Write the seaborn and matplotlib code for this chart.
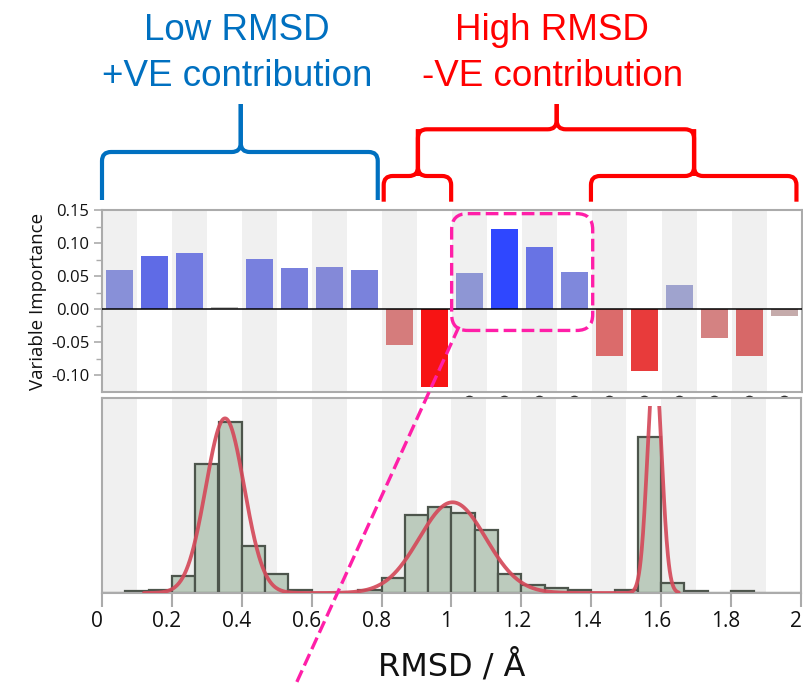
import numpy as np
import pandas as pd
import matplotlib
matplotlib.use("Agg")
import matplotlib.pyplot as plt
import matplotlib.transforms as mtransforms
from matplotlib.path import Path
from matplotlib.patches import PathPatch, FancyBboxPatch
from matplotlib.lines import Line2D
import seaborn as sns

# ---------------- data ----------------
# RMSD bins (0.1 Å wide) used as variables in the model
rmsd_bins = ["0.0-0.1", "0.1-0.2", "0.2-0.3", "0.3-0.4", "0.4-0.5",
             "0.5-0.6", "0.6-0.7", "0.7-0.8", "0.8-0.9", "0.9-1.0",
             "1.0-1.1", "1.1-1.2", "1.2-1.3", "1.3-1.4", "1.4-1.5",
             "1.5-1.6", "1.6-1.7", "1.7-1.8", "1.8-1.9", "1.9-2.0"]
importance = [0.059, 0.080, 0.085, 0.004, 0.076, 0.062, 0.064, 0.059,
              -0.054, -0.118, 0.055, 0.122, 0.094, 0.056, -0.071, -0.093,
              0.036, -0.043, -0.071, -0.010]
bar_colors = ["#8890d8", "#5f6be6", "#737ce1", "#c4c4c4", "#7880de",
              "#7980dd", "#8489d8", "#7a82dc", "#d57c7c", "#f71414",
              "#8e96d4", "#2f47ff", "#6873e4", "#7f88dc", "#db6b6b",
              "#e83b3b", "#9fa3ce", "#d48282", "#d76868", "#c5abab"]

# RMSD histogram (bin width 1/15 Å)
hist_edges = [k / 15 for k in range(31)]
hist_counts = [0, 1, 2, 10, 76, 101, 28, 11, 2, 0,
               0, 2, 9, 46, 51, 47, 37, 11, 5, 3,
               2, 0, 2, 92, 6, 1, 0, 1, 0, 0]

# Gaussian mixture fitted to the RMSD distribution
fit_centres = [0.352, 1.003, 1.581]
fit_widths = [0.055, 0.095, 0.020]
fit_peaks = [103.0, 53.5, 138.0]
fit_range = (0.12, 1.65)

x_ticks = [0, 0.2, 0.4, 0.6, 0.8, 1.0, 1.2, 1.4, 1.6, 1.8, 2.0]
x_ticklabels = ["0", "0.2", "0.4", "0.6", "0.8", "1", "1.2", "1.4", "1.6", "1.8", "2"]
y_ticks = [-0.10, -0.05, 0.00, 0.05, 0.10, 0.15]

BLUE = "#0070c0"
RED = "#ff0000"
PINK = "#ff1fa8"
GRID_GREY = "#f0f0f0"
SPINE = "#ababab"

# ---------------- figure ----------------
sns.set_theme(style="white")
plt.rcParams["font.family"] = ["Open Sans", "DejaVu Sans"]

W, H = 804, 686
fig = plt.figure(figsize=(W / 100, H / 100), dpi=100)

def px_axes(left, top, right, bottom):
    return fig.add_axes([left / W, 1 - bottom / H, (right - left) / W, (bottom - top) / H])

ax1 = px_axes(102, 210, 802, 392)
ax2 = px_axes(102, 398, 801, 593)

# ----- top panel: variable importance -----
imp_df = pd.DataFrame({"bin": rmsd_bins, "importance": importance})
for i in range(0, len(rmsd_bins), 2):
    ax1.axvspan(i - 0.5, i + 0.5, color=GRID_GREY, zorder=0, lw=0)
sns.barplot(data=imp_df, x="bin", y="importance", hue="bin", order=rmsd_bins,
            palette=dict(zip(rmsd_bins, bar_colors)), legend=False,
            width=0.77, saturation=1, ax=ax1, zorder=2,
            edgecolor="none", linewidth=0)
ax1.axhline(0, color="black", lw=1.1, zorder=3)
ax1.set_xlim(-0.5, len(rmsd_bins) - 0.5)
ax1.set_ylim(-0.125, 0.15)
ax1.set_xlabel("")
ax1.set_xticks([])
ax1.set_yticks(y_ticks)
ax1.set_yticklabels([f"{v:.2f}" for v in y_ticks], fontsize=12)
ax1.set_yticks([-0.075, -0.025, 0.025, 0.075, 0.125], minor=True)
ax1.tick_params(axis="y", which="major", left=True, length=6, width=1.2,
                color=SPINE, pad=3, labelcolor="#111111")
ax1.tick_params(axis="y", which="minor", left=True, length=4, width=1.0, color=SPINE)
ax1.set_ylabel("Variable Importance", fontsize=13.5, labelpad=3, color="#111111")
for s in ax1.spines.values():
    s.set_color(SPINE)
    s.set_linewidth(1.5)

# small markers peeking out below the importance panel
peek = mtransforms.blended_transform_factory(ax1.transData, mtransforms.IdentityTransform())
ax1.scatter(list(range(10, 20)), [H - 400.5] * 10, s=55, color="#2b2b2b",
            transform=peek, clip_on=False, zorder=1)

# ----- bottom panel: RMSD histogram -----
for k in range(0, 20, 2):
    ax2.axvspan(k / 10, (k + 1) / 10, color=GRID_GREY, zorder=0, lw=0)
hist_df = pd.DataFrame({"rmsd": [(a + b) / 2 for a, b in zip(hist_edges[:-1], hist_edges[1:])],
                        "count": hist_counts})
sns.histplot(data=hist_df, x="rmsd", weights="count", bins=hist_edges, ax=ax2,
             color="#bccbbd", alpha=1, edgecolor="#4d554c", linewidth=1.6, zorder=2)
grid = np.linspace(fit_range[0], fit_range[1], 1200)
curve = np.zeros_like(grid)
for c, w, p in zip(fit_centres, fit_widths, fit_peaks):
    curve += p * np.exp(-0.5 * ((grid - c) / w) ** 2)
sns.lineplot(x=grid, y=curve, ax=ax2, color="#d44a5a", alpha=0.92, lw=2.7, zorder=3)
fit_line = ax2.get_lines()[-1]
fit_line.set_clip_box(mtransforms.TransformedBbox(
    mtransforms.Bbox([[0, 0], [1, 0.957]]), ax2.transAxes))
ax2.set_xlim(0, 2)
ax2.set_ylim(0, 115)
ax2.set_yticks([])
ax2.set_ylabel("")
ax2.set_xticks(x_ticks)
ax2.set_xticklabels(x_ticklabels, fontsize=15)
ax2.tick_params(axis="x", bottom=True, length=10, width=1.5, color=SPINE, pad=3,
                labelcolor="#111111")
shift = mtransforms.ScaledTranslation(-5 / 100, 0, fig.dpi_scale_trans)
for lab in ax2.get_xticklabels():
    lab.set_transform(lab.get_transform() + shift)
ax2.set_xlabel("RMSD / Å", fontsize=23, family="DejaVu Sans", labelpad=12, color="#111111")
for s in ax2.spines.values():
    s.set_color(SPINE)
    s.set_linewidth(1.5)

# ----- braces above the panels -----
def xpx(x):
    return ax2.transData.transform((x, 0))[0]

def brace(x0, x1, xc, y_end, y_bar, y_tip, color, r=9, lw=3.0):
    # coordinates in image pixels (y downwards); converted to display space
    X0, X1, XC = xpx(x0), xpx(x1), xpx(xc)
    def d(x, y):
        return (x, H - y)
    verts = [d(X0, y_end), d(X0, y_bar + r), d(X0, y_bar), d(X0 + r, y_bar),
             d(XC - r, y_bar), d(XC, y_bar), d(XC, y_bar - r), d(XC, y_tip)]
    codes = [Path.MOVETO, Path.LINETO, Path.CURVE3, Path.CURVE3,
             Path.LINETO, Path.CURVE3, Path.CURVE3, Path.LINETO]
    verts2 = [d(X1, y_end), d(X1, y_bar + r), d(X1, y_bar), d(X1 - r, y_bar),
              d(XC + r, y_bar), d(XC, y_bar), d(XC, y_bar - r), d(XC, y_tip)]
    for v in (verts, verts2):
        p = PathPatch(Path(v, codes), fill=False, edgecolor=color, lw=lw,
                      capstyle="butt", joinstyle="round",
                      transform=mtransforms.IdentityTransform())
        fig.add_artist(p)

brace(0.000, 0.789, 0.397, 200, 152, 104, BLUE)
brace(0.806, 0.999, 0.904, 201.7, 176, 129.3, RED)
brace(1.399, 1.987, 1.694, 201.7, 176, 129.3, RED)
brace(0.904, 1.694, 1.301, 176, 129.3, 104, RED)

# ----- headings -----
head = mtransforms.blended_transform_factory(ax2.transData, fig.transFigure)
fig.text(0.386, 1 - 40 / H, "Low RMSD", transform=head, ha="center", va="baseline",
         color=BLUE, fontsize=26.5, family="Liberation Sans")
fig.text(0.386, 1 - 86 / H, "+VE contribution", transform=head, ha="center", va="baseline",
         color=BLUE, fontsize=26.5, family="Liberation Sans")
fig.text(1.288, 1 - 40 / H, "High RMSD", transform=head, ha="center", va="baseline",
         color=RED, fontsize=26.5, family="Liberation Sans")
fig.text(1.288, 1 - 86 / H, "-VE contribution", transform=head, ha="center", va="baseline",
         color=RED, fontsize=26.5, family="Liberation Sans")

# ----- highlight box around the strongest positive bins -----
(bx0, by1) = ax1.transData.transform((9.49, 0.1445))
(bx1, by0) = ax1.transData.transform((13.52, -0.032))
box = FancyBboxPatch((bx0, by0), bx1 - bx0, by1 - by0,
                     boxstyle="round,pad=0,rounding_size=16", fill=False,
                     edgecolor=PINK, lw=2.4, linestyle=(0, (3.8, 1.6)),
                     transform=mtransforms.IdentityTransform(), zorder=10)
fig.add_artist(box)
lx0, ly0 = ax1.transData.transform((9.7, -0.026))
lx1, ly1 = 295, 0
fig.add_artist(Line2D([lx0, lx1], [ly0, ly1], color=PINK, lw=2.4,
                      linestyle=(0, (3.8, 1.6)),
                      transform=mtransforms.IdentityTransform(), zorder=10))

fig.savefig("out.png", dpi=100)
